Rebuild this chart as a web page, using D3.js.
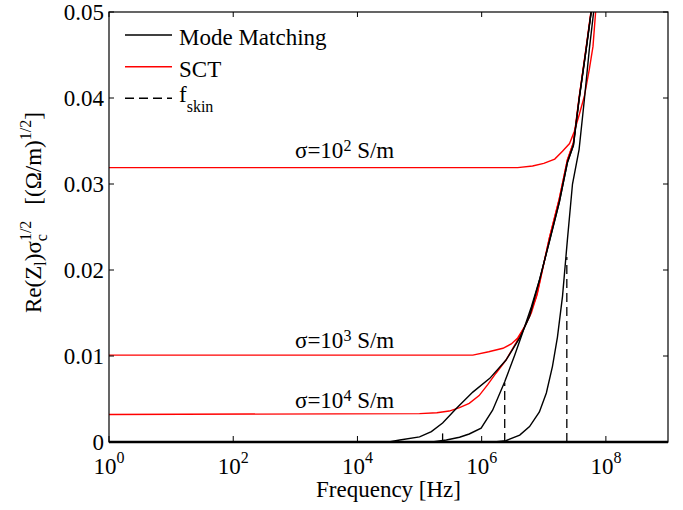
<!DOCTYPE html>
<html><head><meta charset="utf-8">
<script src="https://cdn.jsdelivr.net/npm/d3@7/dist/d3.min.js"></script>
<style>
body{margin:0;background:#fff}
svg text{font-family:"Liberation Serif","DejaVu Serif",serif;fill:#000}
</style>
</head><body>
<svg id="chart" width="683" height="510" font-family="Liberation Serif, DejaVu Serif, serif"></svg>
<script>
// ---- data (frequency in Hz, Re(Z)σ^1/2 values) ----
const xTicks = [1, 1e2, 1e4, 1e6, 1e8];
const xTickExp = ["0", "2", "4", "6", "8"];
const yTicks = [0, 0.01, 0.02, 0.03, 0.04, 0.05];
const yTickLabels = ["0", "0.01", "0.02", "0.03", "0.04", "0.05"];
const sigmaExp = ["2", "3", "4"];

const sct2F = [1, 3.8e6, 6.6e6, 1.0e7, 1.5e7, 2.0e7, 2.6e7, 3.1e7, 3.7e7, 4.5e7, 5.4e7, 6.2e7, 6.8e7, 7.6e7];
const sct2V = [0.0319, 0.0319, 0.0321, 0.0324, 0.0329, 0.0338, 0.0347, 0.0361, 0.0380, 0.0402, 0.0433, 0.0460, 0.0498, 0.0550];

const sct3F = [1, 7.2e5, 1.3e6, 2.2e6, 3.0e6, 3.8e6, 4.9e6, 6.3e6, 7.9e6, 1.23e7, 1.78e7, 2.4e7, 3.0e7, 3.7e7, 4.8e7, 5.75e7, 6.5e7];
const sct3V = [0.0101, 0.0101, 0.0105, 0.0109, 0.0114, 0.0121, 0.0134, 0.0150, 0.0173, 0.0237, 0.0283, 0.0328, 0.0348, 0.0400, 0.0458, 0.0500, 0.0535];

const sct4F = [1, 1e5, 1.9e5, 3.0e5, 4.4e5, 6.3e5, 9.1e5, 1.26e6, 1.7e6, 2.45e6, 3.55e6, 5.25e6, 7.6e6, 1.23e7, 1.78e7, 2.4e7, 3.0e7, 3.7e7, 4.8e7, 5.75e7, 6.5e7];
const sct4V = [0.0032, 0.0033, 0.0034, 0.0036, 0.0040, 0.0045, 0.0054, 0.0067, 0.0080, 0.0095, 0.0115, 0.0138, 0.0169, 0.0237, 0.0283, 0.0328, 0.0348, 0.0400, 0.0458, 0.0500, 0.0535];

const mm4F = [1, 3.2e4, 4.8e4, 1e5, 1.55e5, 2.35e5, 3.9e5, 7.2e5, 1.35e6, 2.45e6, 4.1e6, 5.9e6, 8.5e6, 1.23e7, 1.78e7, 2.4e7, 3.0e7, 3.7e7, 4.8e7, 5.75e7, 6.5e7];
const mm4V = [0, 0, 0.00023, 0.0006, 0.0012, 0.0022, 0.0039, 0.0058, 0.0074, 0.0095, 0.0121, 0.0146, 0.0188, 0.0233, 0.0279, 0.0325, 0.0345, 0.0398, 0.0456, 0.0498, 0.0535];

const mm3F = [1, 1.6e5, 2.7e5, 4.4e5, 6.3e5, 9.8e5, 1.5e6, 2.35e6, 3.4e6, 4.6e6, 6.3e6, 8.5e6, 1.23e7, 1.78e7, 2.4e7, 3.0e7, 3.7e7, 4.8e7, 5.75e7, 6.5e7];
const mm3V = [0, 0, 0.00023, 0.00055, 0.00093, 0.0016, 0.0037, 0.0070, 0.0101, 0.0128, 0.0157, 0.0188, 0.0233, 0.0279, 0.0325, 0.0345, 0.0398, 0.0456, 0.0498, 0.0535];

const mm2F = [1, 1.6e6, 2.45e6, 4.1e6, 5.9e6, 8.5e6, 1.1e7, 1.38e7, 1.66e7, 2.0e7, 2.4e7, 2.9e7, 3.7e7, 4.5e7, 5.4e7, 6.3e7, 7.0e7];
const mm2V = [0, 0, 0.00015, 0.0008, 0.0018, 0.0035, 0.0057, 0.0088, 0.0122, 0.0169, 0.0235, 0.0300, 0.0340, 0.0398, 0.0456, 0.0498, 0.0535];

const fskinF = [2.35e5, 2.35e6, 2.35e7];
const fskinV = [0.0010, 0.0069, 0.0215];

const legendLabels = ["Mode Matching", "SCT", "f"];
const legendColors = ["#000", "#ff0000", "#000"];

// ---- layout ----
const FONT = "Liberation Serif, DejaVu Serif, serif";
const L = 109, R = 668, T = 12, B = 442;
const svg = d3.select("#chart");
const x = d3.scaleLog().domain([1, 1e9]).range([L, R]);
const y = d3.scaleLinear().domain([0, 0.05]).range([B, T]);

svg.append("defs").append("clipPath").attr("id", "clip")
  .append("rect").attr("x", L).attr("y", T).attr("width", R - L).attr("height", B - T + 3);

const plot = svg.append("g").attr("clip-path", "url(#clip)");
const line = d3.line().x(d => x(d[0])).y(d => y(d[1]));
const zip = (f, v) => f.map((ff, i) => [ff, v[i]]);

const series = [
  {f: sct2F, v: sct2V, c: "#ff0000"},
  {f: sct3F, v: sct3V, c: "#ff0000"},
  {f: sct4F, v: sct4V, c: "#ff0000"},
  {f: mm2F, v: mm2V, c: "#000"},
  {f: mm3F, v: mm3V, c: "#000"},
  {f: mm4F, v: mm4V, c: "#000"}
];
series.forEach(s => {
  plot.append("path").attr("d", line(zip(s.f, s.v)))
    .attr("fill", "none").attr("stroke", s.c).attr("stroke-width", 1.4);
});
fskinF.forEach((f, i) => {
  plot.append("line").attr("x1", x(f)).attr("x2", x(f))
    .attr("y1", y(0)).attr("y2", y(fskinV[i]))
    .attr("stroke", "#000").attr("stroke-width", 1.3).attr("stroke-dasharray", "9,5");
});

// ---- frame & ticks ----
const ax = svg.append("g");
ax.append("rect").attr("x", L).attr("y", T).attr("width", R - L).attr("height", B - T)
  .attr("fill", "none").attr("stroke", "#000").attr("stroke-width", 1.2);
ax.append("line").attr("x1", L).attr("x2", R).attr("y1", B).attr("y2", B)
  .attr("stroke", "#000").attr("stroke-width", 2.6);
xTicks.forEach((t, i) => {
  ax.append("line").attr("x1", x(t)).attr("x2", x(t)).attr("y1", B).attr("y2", B - 6).attr("stroke", "#000");
  ax.append("line").attr("x1", x(t)).attr("x2", x(t)).attr("y1", T).attr("y2", T + 5).attr("stroke", "#000");
  const tx = ax.append("text").attr("x", x(t)).attr("y", 474).attr("text-anchor", "middle")
    .attr("font-family", FONT).attr("font-size", 23);
  tx.append("tspan").text("10");
  tx.append("tspan").attr("dy", -11).attr("font-size", 16).text(xTickExp[i]);
});
yTicks.forEach((t, i) => {
  ax.append("line").attr("x1", L).attr("x2", L + 5).attr("y1", y(t)).attr("y2", y(t)).attr("stroke", "#000");
  ax.append("line").attr("x1", R).attr("x2", R - 5).attr("y1", y(t)).attr("y2", y(t)).attr("stroke", "#000");
  ax.append("text").attr("x", 104).attr("y", y(t) + 7.5).attr("text-anchor", "end")
    .attr("font-family", FONT).attr("font-size", 23).text(yTickLabels[i]);
});

// x label
svg.append("text").attr("x", (L + R) / 2).attr("y", 497).attr("text-anchor", "middle")
  .attr("font-family", FONT).attr("font-size", 23).text("Frequency [Hz]");

// y label
const yl = svg.append("text").attr("transform", "translate(41,313) rotate(-90)")
  .attr("text-anchor", "start").attr("font-family", FONT).attr("font-size", 23);
yl.append("tspan").text("Re(Z");
yl.append("tspan").attr("dy", 5).attr("font-size", 16).text("l");
yl.append("tspan").attr("dy", -5).text(")σ");
yl.append("tspan").attr("dy", 6).attr("font-size", 16).text("c");
yl.append("tspan").attr("dy", -16).attr("dx", -7).attr("font-size", 16).text("1/2");
yl.append("tspan").attr("dy", 10).attr("dx", 16).text("[(Ω/m)");
yl.append("tspan").attr("dy", -10).attr("font-size", 16).text("1/2");
yl.append("tspan").attr("dy", 10).text("]");

// sigma labels
sigmaExp.forEach((e, i) => {
  const t = svg.append("text").attr("x", 295).attr("y", [158, 348, 408][i])
    .attr("font-family", FONT).attr("font-size", 23);
  t.append("tspan").text("σ=10");
  t.append("tspan").attr("dy", -7).attr("font-size", 16).text(e);
  t.append("tspan").attr("dy", 7).text(" S/m");
});

// legend
const lg = svg.append("g");
const lgY = [35, 66.7, 98.3];
legendLabels.forEach((lab, i) => {
  const l = lg.append("line").attr("x1", 125).attr("x2", 172).attr("y1", lgY[i]).attr("y2", lgY[i])
    .attr("stroke", legendColors[i]).attr("stroke-width", 1.4);
  if (i === 2) l.attr("stroke-dasharray", "9,5");
  const t = lg.append("text").attr("x", 179).attr("y", i === 2 ? 102 : lgY[i] + 10)
    .attr("font-family", FONT).attr("font-size", 23);
  t.append("tspan").text(lab);
  if (i === 2) t.append("tspan").attr("dy", 10).attr("font-size", 16).text("skin");
});
</script>
</body></html>
